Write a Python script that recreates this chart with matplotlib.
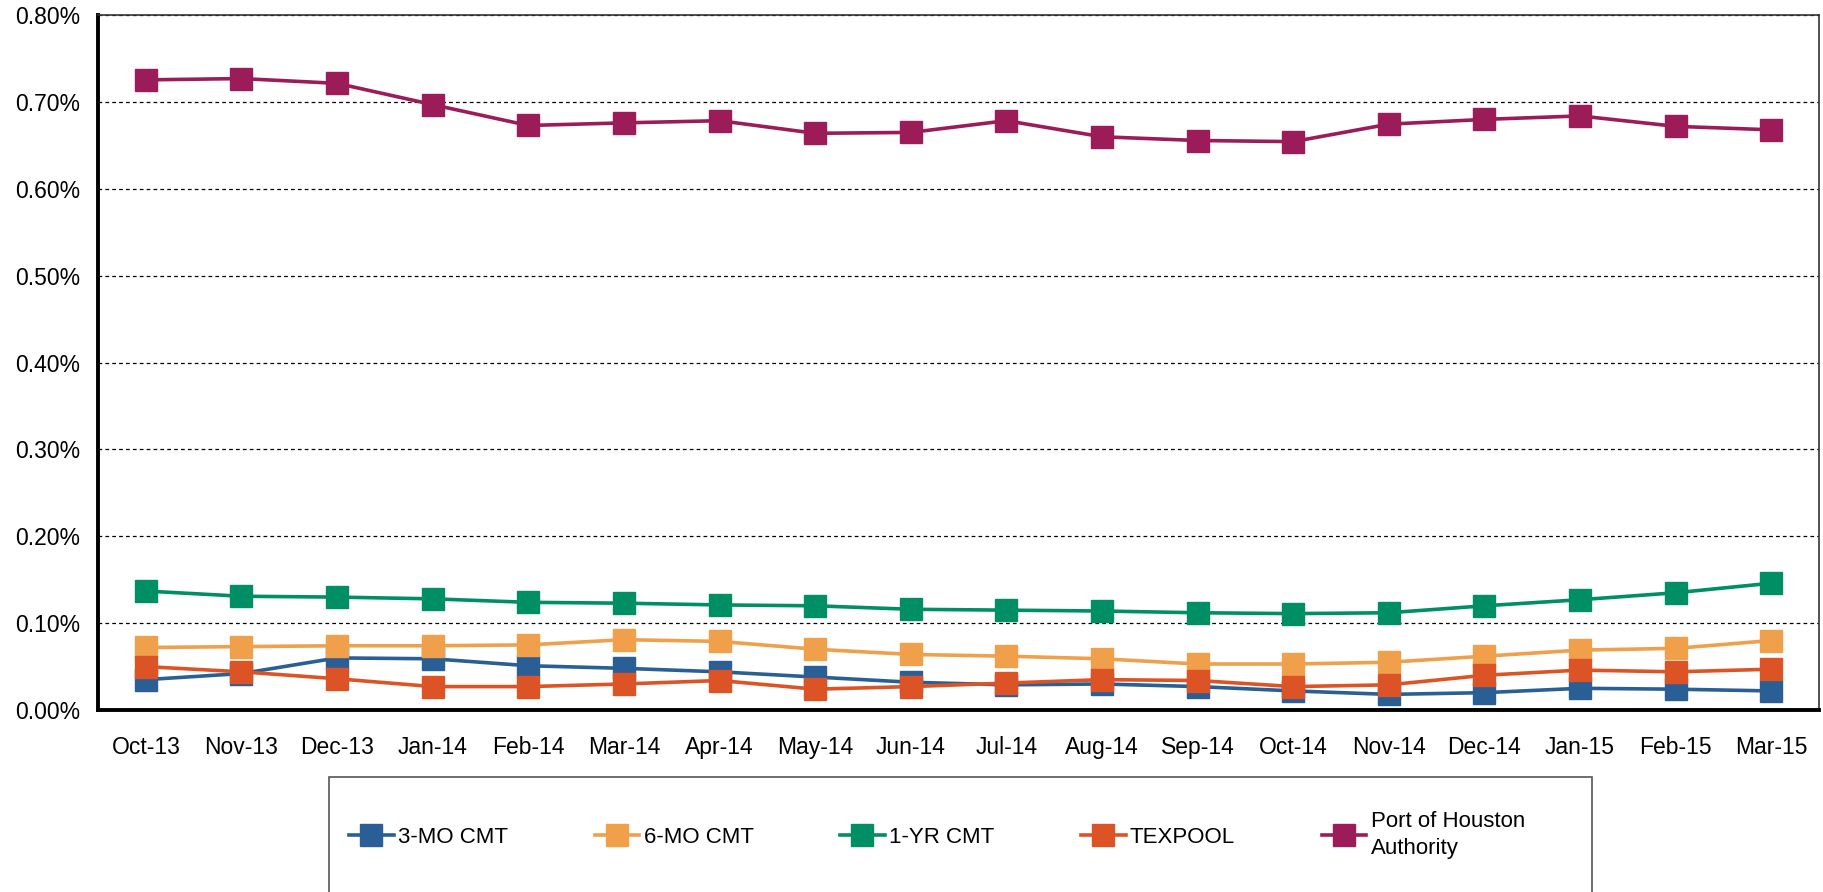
import matplotlib
matplotlib.use("Agg")
import matplotlib.pyplot as plt
from matplotlib.patches import Rectangle
from matplotlib.ticker import FuncFormatter

plt.rcParams['font.family'] = ['Liberation Sans', 'DejaVu Sans']

months = ['Oct-13', 'Nov-13', 'Dec-13', 'Jan-14', 'Feb-14', 'Mar-14', 'Apr-14', 'May-14', 'Jun-14',
          'Jul-14', 'Aug-14', 'Sep-14', 'Oct-14', 'Nov-14', 'Dec-14', 'Jan-15', 'Feb-15', 'Mar-15']

# yields in percent
cmt_3mo = [0.035, 0.042, 0.060, 0.059, 0.051, 0.048, 0.044, 0.038, 0.032,
           0.029, 0.030, 0.027, 0.022, 0.018, 0.020, 0.025, 0.024, 0.022]
cmt_6mo = [0.072, 0.073, 0.074, 0.074, 0.075, 0.081, 0.079, 0.070, 0.064,
           0.062, 0.059, 0.053, 0.053, 0.055, 0.062, 0.069, 0.071, 0.080]
cmt_1yr = [0.137, 0.131, 0.130, 0.128, 0.124, 0.123, 0.121, 0.120, 0.116,
           0.115, 0.114, 0.112, 0.111, 0.112, 0.120, 0.127, 0.135, 0.146]
texpool = [0.050, 0.044, 0.036, 0.027, 0.027, 0.030, 0.034, 0.024, 0.027,
           0.031, 0.035, 0.034, 0.027, 0.029, 0.040, 0.046, 0.044, 0.047]
port_houston = [0.7255, 0.727, 0.7215, 0.697, 0.673, 0.676, 0.6785, 0.664, 0.665,
                0.6785, 0.660, 0.6557, 0.6544, 0.6745, 0.680, 0.684, 0.672, 0.668]

series = [
    ('3-MO CMT', cmt_3mo, '#2a5f96'),
    ('6-MO CMT', cmt_6mo, '#f0a04b'),
    ('1-YR CMT', cmt_1yr, '#008f65'),
    ('TEXPOOL', texpool, '#dc5426'),
    ('Port of Houston\nAuthority', port_houston, '#9b1c59'),
]

fig = plt.figure(figsize=(18.23, 8.92), dpi=100)
ax = fig.add_axes([0.0538, 0.204, 0.944, 0.779])

x = list(range(len(months)))
for name, vals, col in series:
    ax.plot(x, vals, color=col, lw=2.6, marker='s', markersize=16, label=name, zorder=3)

ax.set_xlim(-0.5, 17.5)
ax.set_ylim(0, 0.8)
ax.set_yticks([i / 10 for i in range(9)])
ax.yaxis.set_major_formatter(FuncFormatter(lambda v, p: f'{v:.2f}%'))
ax.set_xticks(x)
ax.set_xticklabels(months)
ax.tick_params(axis='both', length=0, labelsize=16.5)
ax.tick_params(axis='y', pad=13)
ax.tick_params(axis='x', pad=19)
ax.grid(axis='y', color='black', linestyle=(0, (3, 2.5)), lw=0.9, zorder=1)

for s in ['left', 'bottom']:
    ax.spines[s].set_linewidth(2.8)
    ax.spines[s].set_color('black')
for s in ['top', 'right']:
    ax.spines[s].set_linewidth(1.2)
    ax.spines[s].set_color('#333333')

fig.patches.append(Rectangle((0.1805, -0.01), 0.693, 0.139, transform=fig.transFigure,
                             fill=False, edgecolor='#555555', lw=1.2))
leg = fig.legend(loc='center', bbox_to_anchor=(0.514, 0.064), ncol=5, frameon=False,
                 fontsize=16, handlelength=2.0, columnspacing=3.9, handletextpad=0.2)
for t in leg.get_texts():
    t.set_linespacing(1.4)

fig.savefig('out.png', dpi=100)
